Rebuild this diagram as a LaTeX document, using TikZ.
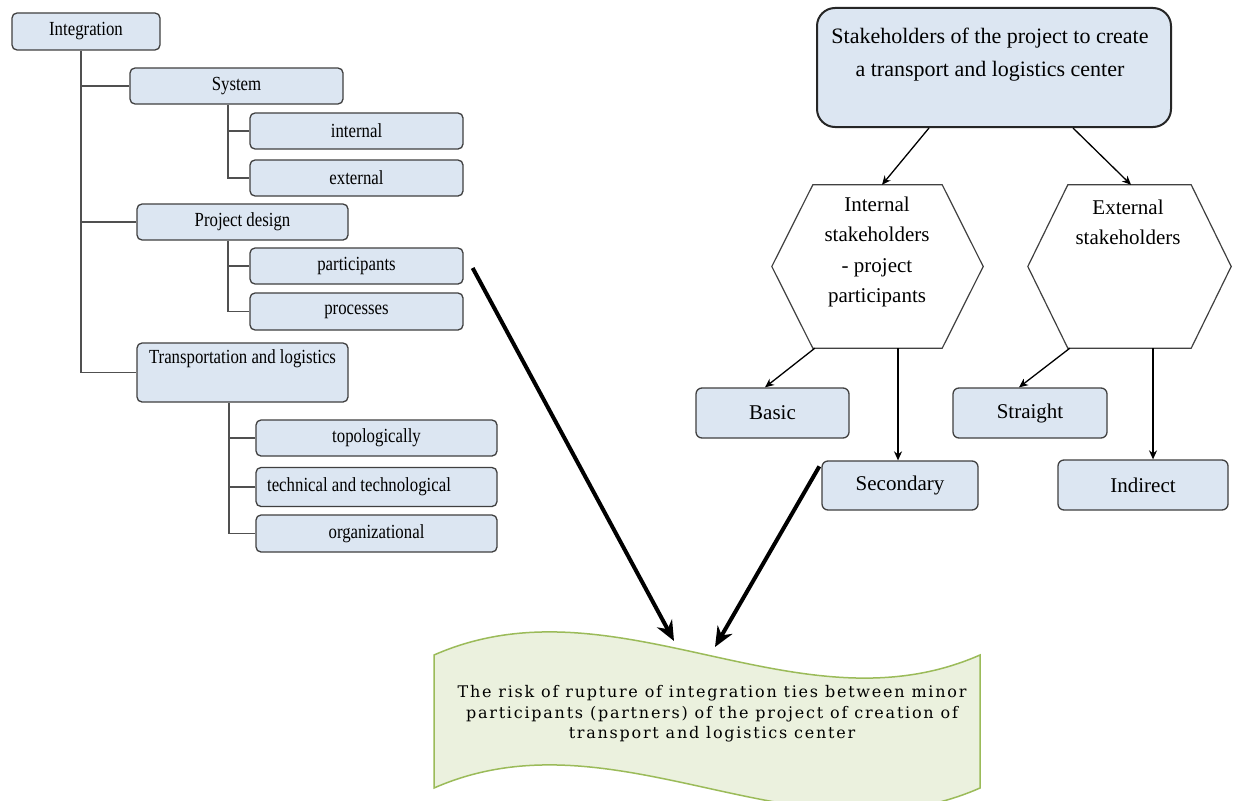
\documentclass[tikz,border=0pt]{standalone}
\usepackage{fontspec}
\setmainfont{Liberation Serif}
\newfontfamily\treefont{Liberation Serif}[FakeStretch=0.84]
\newfontfamily\bannerfont{DejaVu Serif}[LetterSpace=11]
\usetikzlibrary{arrows.meta,calc}
\definecolor{boxfill}{RGB}{220,230,242}
\definecolor{boxline}{RGB}{64,64,64}
\definecolor{treeline}{RGB}{80,80,80}
\definecolor{bannerfill}{RGB}{235,241,222}
\definecolor{bannerline}{RGB}{155,187,89}
\begin{document}
\begin{tikzpicture}[x=1pt,y=-1pt,
  tbox/.style={draw=boxline, fill=boxfill, line width=1.3pt, rounded corners=5pt, inner sep=0pt, font=\treefont\fontsize{20}{24}\selectfont},
  rbox/.style={draw=boxline, fill=boxfill, line width=1.3pt, rounded corners=6pt, inner sep=0pt, font=\fontsize{21}{25}\selectfont},
  tree/.style={draw=treeline, line width=1.5pt},
  thinarrow/.style={draw=black, line width=1.3pt, -{Stealth[length=9pt,width=8pt]}},
  bigarrow/.style={draw=black, line width=4pt, -{Stealth[length=20pt,width=17pt]}},
  hexline/.style={draw=boxline, line width=1.2pt},
]
\useasboundingbox[fill=white] (0,0) rectangle (1246,800);
\clip (0,0) rectangle (1246,800);

% ---------- left tree ----------
\node[tbox, minimum width=148pt, minimum height=37pt] (integ) at (86,31.5) {Integration};
\node[tbox, minimum width=213pt, minimum height=36pt] (system) at (236.5,86) {System};
\node[tbox, minimum width=213pt, minimum height=36pt] (internal) at (356.5,131) {internal};
\node[tbox, minimum width=213pt, minimum height=36pt] (external) at (356.5,178) {external};
\node[tbox, minimum width=211pt, minimum height=36pt] (pdesign) at (242.5,222) {Project design};
\node[tbox, minimum width=213pt, minimum height=36pt] (particip) at (356.5,266) {participants};
\node[tbox, minimum width=213pt, minimum height=37pt] (process) at (356.5,311.5) {processes};
\node[tbox, minimum width=211pt, minimum height=59pt, align=center] (transp) at (242.5,372.5) {Transportation and logistics\\ \strut};
\node[tbox, minimum width=241pt, minimum height=36pt] (topo) at (376.5,438) {topologically};
\node[tbox, minimum width=241pt, minimum height=39pt] (techn) at (376.5,487) {technical and technological\hspace*{35pt}};
\node[tbox, minimum width=241pt, minimum height=37pt] (org) at (376.5,533.5) {organizational};

\coordinate (trunk) at ([xshift=-5pt]integ.south);
\draw[tree] (trunk) |- (transp.west);
\draw[tree] (system.west) -- (system.west -| trunk);
\draw[tree] (pdesign.west) -- (pdesign.west -| trunk);

\coordinate (s1) at ([xshift=-8.5pt]system.south);
\draw[tree] (s1) |- (external.west);
\draw[tree] (internal.west) -- (internal.west -| s1);

\coordinate (s2) at ([xshift=-14.5pt]pdesign.south);
\draw[tree] (s2) |- (process.west);
\draw[tree] (particip.west) -- (particip.west -| s2);

\coordinate (s3) at ([xshift=-13.5pt]transp.south);
\draw[tree] (s3) |- (org.west);
\draw[tree] (topo.west) -- (topo.west -| s3);
\draw[tree] (techn.west) -- (techn.west -| s3);

% ---------- right side ----------
\node[draw=black!85, fill=boxfill, line width=2pt, rounded corners=18pt, minimum width=354pt, minimum height=119pt, inner sep=0pt] (stake) at (994,67.5) {};
\node[align=center, inner sep=0pt, font=\fontsize{22}{33}\selectfont] (staketext) at (990,54.5) {Stakeholders of the project to create\\a transport and logistics center};

\node[minimum width=211pt, minimum height=163pt, inner sep=0pt] (hexI) at (877.5,266.5) {};
\draw[hexline] (hexI.west) -- ([xshift=41pt]hexI.north west) -- ([xshift=-41pt]hexI.north east) -- (hexI.east) -- ([xshift=-41pt]hexI.south east) -- ([xshift=41pt]hexI.south west) -- cycle;
\node[align=center, inner sep=0pt, font=\fontsize{21}{30.5}\selectfont] (hexIt) at (877,252) {Internal\\stakeholders\\- project\\participants};

\node[minimum width=203pt, minimum height=163pt, inner sep=0pt] (hexE) at (1129.5,266.5) {};
\draw[hexline] (hexE.west) -- ([xshift=40pt]hexE.north west) -- ([xshift=-40pt]hexE.north east) -- (hexE.east) -- ([xshift=-40pt]hexE.south east) -- ([xshift=40pt]hexE.south west) -- cycle;
\node[align=center, inner sep=0pt, font=\fontsize{21}{30.5}\selectfont] (hexEt) at (1128,222.5) {External\\stakeholders};

\node[rbox, minimum width=153pt, minimum height=50pt] (basic) at (772.5,413) {Basic};
\node[rbox, minimum width=156pt, minimum height=49pt] (second) at (900,485.5) {Secondary};
\node[rbox, minimum width=154pt, minimum height=50pt] (straight) at (1030,413) {Straight};
\node[rbox, minimum width=170pt, minimum height=50pt] (indirect) at (1143,485) {Indirect};

\draw[thinarrow] ([xshift=-65pt]stake.south) -- ([xshift=4.5pt]hexI.north);
\draw[thinarrow] ([xshift=79pt]stake.south) -- ([xshift=1.5pt]hexE.north);
\draw[thinarrow] ([xshift=43pt]hexI.south west) -- ([xshift=-7.5pt]basic.north);
\draw[thinarrow] ([xshift=20.5pt]hexI.south) -- ([xshift=-2pt]second.north);
\draw[thinarrow] ([xshift=42pt]hexE.south west) -- ([xshift=-11pt]straight.north);
\draw[thinarrow] ([xshift=23.5pt]hexE.south) -- ([xshift=10pt]indirect.north);

% ---------- banner ----------
\draw[fill=bannerfill, draw=bannerline, line width=1.5pt] (434,655) .. controls (616,575) and (798,735) .. (980,655) -- (980,788) .. controls (798,868) and (616,708) .. (434,788) -- cycle;
\node[align=center, inner sep=0pt, font=\bannerfont\fontsize{16}{20.5}\selectfont] (risk) at (712,714) {The risk of rupture of integration ties between minor\\participants (partners) of the project of creation of\\transport and logistics center};

\coordinate (tip1) at (674,641);
\coordinate (tip2) at (715,647);
\draw[bigarrow] ([xshift=9pt,yshift=-2pt]particip.east) -- (tip1);
\draw[bigarrow] ([xshift=-2pt,yshift=-6pt]second.north west) -- (tip2);
\end{tikzpicture}
\end{document}
